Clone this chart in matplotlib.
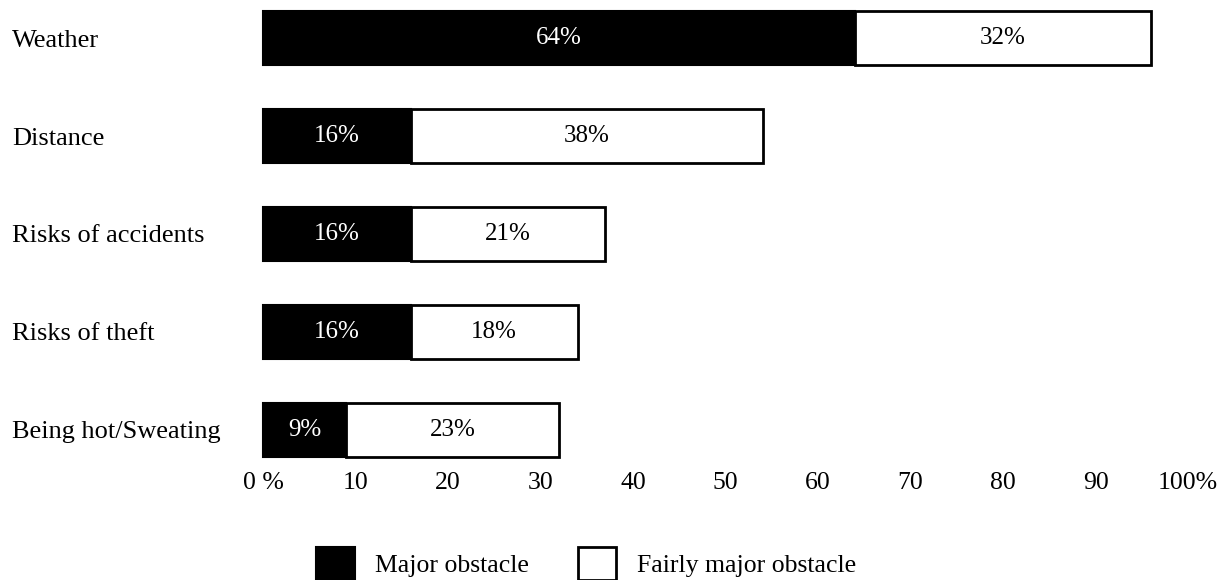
import matplotlib
matplotlib.use("Agg")
import matplotlib.pyplot as plt
from matplotlib.patches import Patch

plt.rcParams['font.family'] = ['Liberation Serif', 'DejaVu Serif']

categories = ["Weather", "Distance", "Risks of accidents", "Risks of theft", "Being hot/Sweating"]
major = [64, 16, 16, 16, 9]
fairly = [32, 38, 21, 18, 23]
tick_values = [0, 10, 20, 30, 40, 50, 60, 70, 80, 90, 100]
tick_labels = ["0 %", "10", "20", "30", "40", "50", "60", "70", "80", "90", "100%"]
legend_labels = ["Major obstacle", "Fairly major obstacle"]

W, H = 1220, 580
fig = plt.figure(figsize=(W / 100, H / 100), dpi=100)
left_px, right_px, top_px, bottom_px = 263, 1220, 0, 462
ax = fig.add_axes([left_px / W, 1 - bottom_px / H, (right_px - left_px) / W, (bottom_px - top_px) / H])

y = list(range(len(categories)))
bh = 0.56
ax.barh(y, major, height=bh, color='black', edgecolor='black', linewidth=1.5, clip_on=False)
ax.barh(y, fairly, left=major, height=bh, color='white', edgecolor='black', linewidth=2, clip_on=False)

for i in y:
    ax.text(major[i] / 2, i, f"{major[i]}%", color='white', ha='center', va='center', fontsize=18)
    ax.text(major[i] + fairly[i] / 2, i, f"{fairly[i]}%", color='black', ha='center', va='center', fontsize=18)

ax.set_xlim(0, (right_px - left_px) / 9.25)
ax.set_ylim(4.327, -0.388)

ax.set_xticks(tick_values)
ax.set_xticklabels(tick_labels, fontsize=18.5)
ax.set_yticks(y)
ax.set_yticklabels(categories, fontsize=19, ha='left', va='center_baseline')
ax.tick_params(axis='x', length=0, pad=7)
ax.tick_params(axis='y', length=0, pad=(left_px - 12) * 72 / 100)
for s in ax.spines.values():
    s.set_visible(False)

handles = [Patch(facecolor='black', edgecolor='black', linewidth=1.5),
           Patch(facecolor='white', edgecolor='black', linewidth=2)]
fig.legend(handles, legend_labels, loc='lower left', bbox_to_anchor=(316 / W, 0),
           ncol=2, frameon=False, fontsize=18.5, handlelength=1.5, handleheight=1.6,
           handletextpad=0.8, columnspacing=1.9, borderpad=0, borderaxespad=0)

fig.savefig("out.png", dpi=100)
